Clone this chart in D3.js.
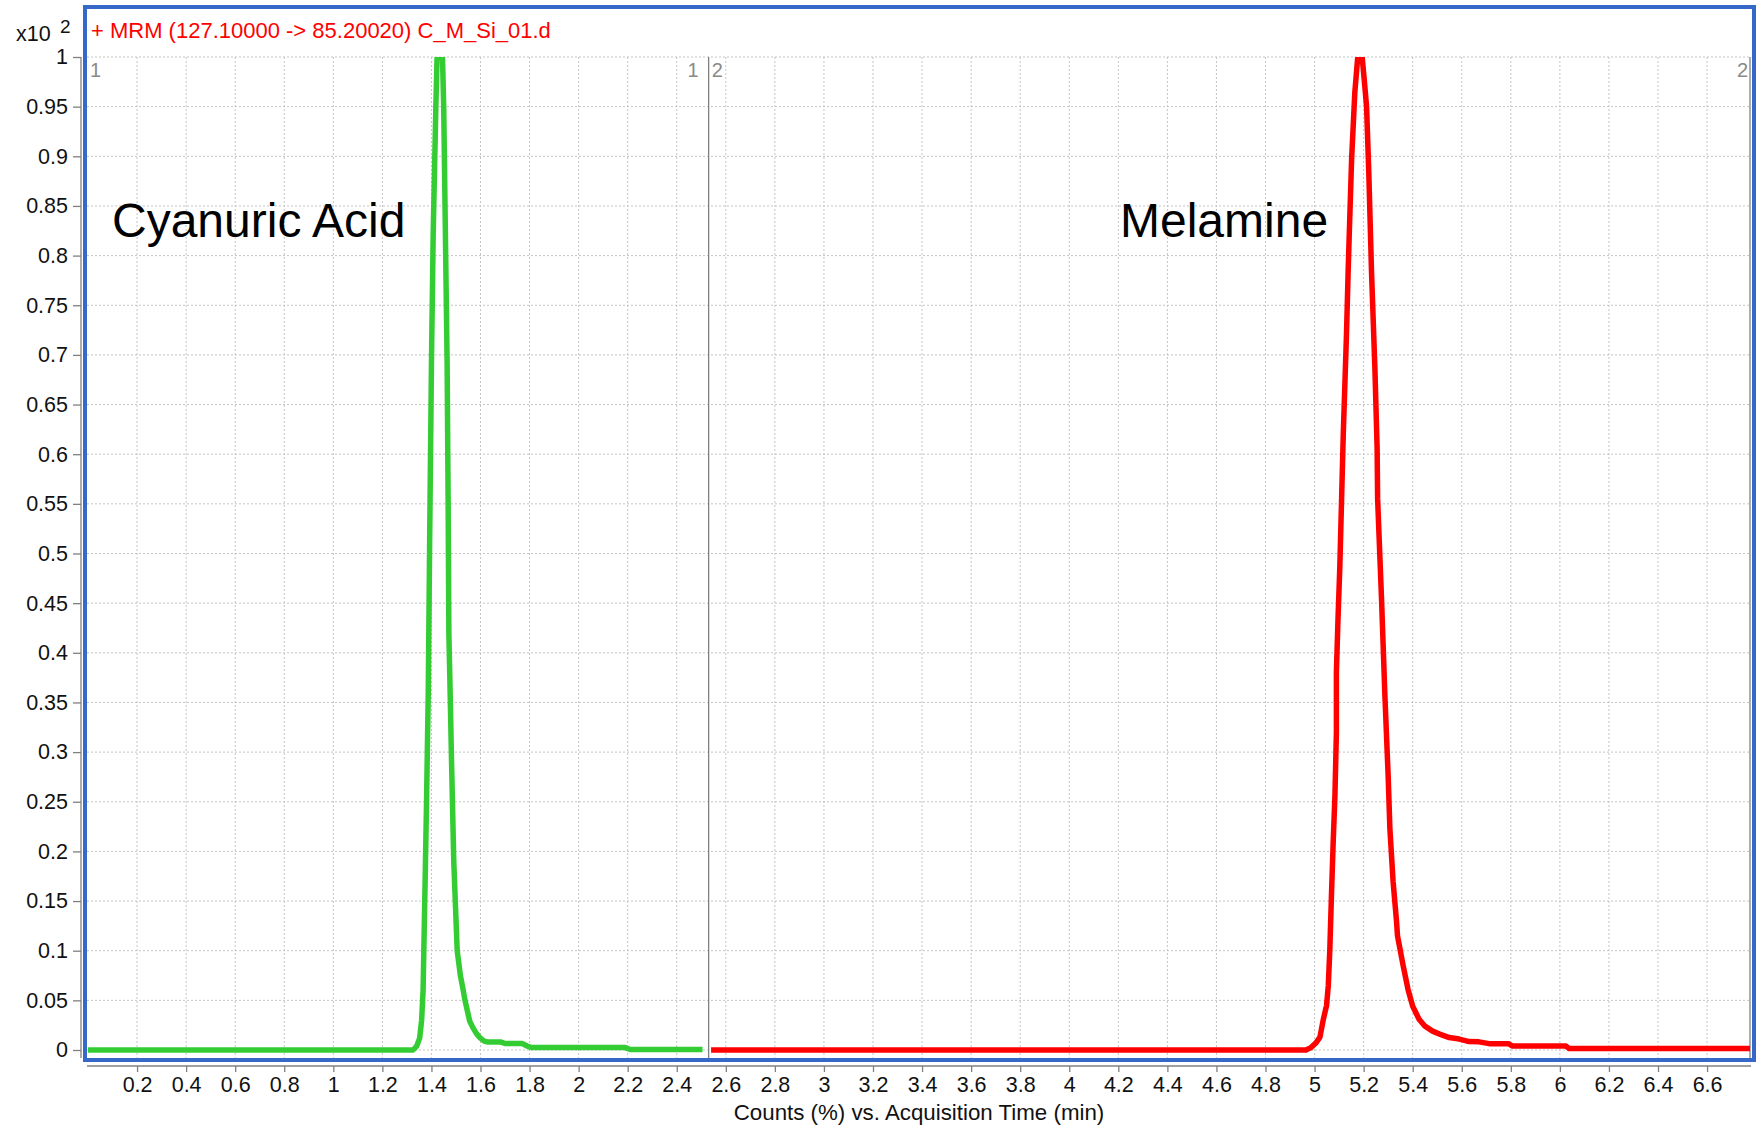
<!DOCTYPE html>
<html>
<head>
<meta charset="utf-8">
<script src="https://cdn.jsdelivr.net/npm/d3@7"></script>
<style>
  body { margin: 0; background: #fff; }
  svg { display: block; font-family: "Liberation Sans", Arial, sans-serif; }
</style>
</head>
<body>
<svg width="1756" height="1126"></svg>
<script>
// chromatogram data, counts in units of x10^2
const cyanuricTime = [0, 1.325, 1.340, 1.352, 1.360, 1.366, 1.369, 1.375, 1.380, 1.387, 1.393, 1.400, 1.407, 1.418, 1.423, 1.445, 1.450, 1.457, 1.464, 1.468, 1.471, 1.475, 1.482, 1.491, 1.505, 1.518, 1.529, 1.536, 1.546, 1.556, 1.570, 1.585, 1.597, 1.615, 1.631, 1.684, 1.700, 1.770, 1.790, 1.810, 2.190, 2.210, 2.505];
const cyanuricCounts = [0, 0, 0.004, 0.012, 0.03, 0.06, 0.1, 0.18, 0.25, 0.36, 0.52, 0.69, 0.82, 0.95, 1.0, 1.0, 0.95, 0.82, 0.69, 0.555, 0.42, 0.375, 0.29, 0.19, 0.1, 0.075, 0.061, 0.051, 0.04, 0.029, 0.022, 0.016, 0.0125, 0.009, 0.008, 0.008, 0.0065, 0.0065, 0.004, 0.0024, 0.0024, 0.0005, 0.0005];

const melamineTime = [2.54, 4.965, 4.985, 5.005, 5.022, 5.035, 5.049, 5.056, 5.062, 5.069, 5.076, 5.083, 5.089, 5.089, 5.095, 5.103, 5.117, 5.130, 5.137, 5.141, 5.151, 5.164, 5.176, 5.194, 5.205, 5.212, 5.221, 5.232, 5.246, 5.255, 5.257, 5.273, 5.287, 5.300, 5.307, 5.320, 5.334, 5.338, 5.361, 5.381, 5.400, 5.426, 5.450, 5.481, 5.510, 5.549, 5.590, 5.630, 5.670, 5.712, 5.790, 5.807, 6.025, 6.038, 6.775];
const melamineCounts = [0, 0, 0.0024, 0.007, 0.013, 0.03, 0.045, 0.065, 0.1, 0.157, 0.21, 0.256, 0.32, 0.38, 0.43, 0.487, 0.62, 0.72, 0.785, 0.818, 0.897, 0.964, 1.0, 1.0, 0.97, 0.95, 0.884, 0.785, 0.686, 0.606, 0.555, 0.454, 0.355, 0.276, 0.223, 0.17, 0.13, 0.115, 0.085, 0.061, 0.044, 0.031, 0.024, 0.019, 0.016, 0.0125, 0.011, 0.0085, 0.0082, 0.0064, 0.0064, 0.004, 0.004, 0.0014, 0.0014];

const xTicks = [0.2, 0.4, 0.6, 0.8, 1, 1.2, 1.4, 1.6, 1.8, 2, 2.2, 2.4, 2.6, 2.8, 3, 3.2, 3.4, 3.6, 3.8, 4, 4.2, 4.4, 4.6, 4.8, 5, 5.2, 5.4, 5.6, 5.8, 6, 6.2, 6.4, 6.6];
const yTicks = [0, 0.05, 0.1, 0.15, 0.2, 0.25, 0.3, 0.35, 0.4, 0.45, 0.5, 0.55, 0.6, 0.65, 0.7, 0.75, 0.8, 0.85, 0.9, 0.95, 1];

const segmentBreak = 2.53; // boundary between time segment 1 and 2
const xMax = 6.775;

const svg = d3.select('svg');

const xScale = d3.scaleLinear().domain([0, xMax]).range([88, 1750]);
const yScale = d3.scaleLinear().domain([0, 1]).range([1050, 57]);

const plotTop = 57;
const plotBottom = 1058;
const plotLeft = 87;
const plotRight = 1751;
const gridColor = '#c4c4c4';
const axisColor = '#808080';
const fmt = d => String(+d.toFixed(2));

// grid
svg.append('g').selectAll('line').data(xTicks)
  .enter().append('line')
    .attr('x1', d => xScale(d)).attr('x2', d => xScale(d))
    .attr('y1', plotTop).attr('y2', plotBottom)
    .attr('stroke', gridColor)
    .attr('stroke-dasharray', '2,2');

svg.append('g').selectAll('line').data(yTicks)
  .enter().append('line')
    .attr('x1', plotLeft).attr('x2', plotRight)
    .attr('y1', d => yScale(d)).attr('y2', d => yScale(d))
    .attr('stroke', gridColor)
    .attr('stroke-dasharray', '2,2');

// segment boundary + right border
[segmentBreak, xMax].forEach(v => {
  svg.append('line')
    .attr('x1', xScale(v)).attr('x2', xScale(v))
    .attr('y1', plotTop).attr('y2', plotBottom)
    .attr('stroke', axisColor).attr('stroke-width', 1.3);
});

// segment labels
const segLabels = [
  { x: plotLeft + 3, text: '1', anchor: 'start' },
  { x: xScale(segmentBreak) - 10, text: '1', anchor: 'end' },
  { x: xScale(segmentBreak) + 3, text: '2', anchor: 'start' },
  { x: plotRight - 3, text: '2', anchor: 'end' }
];
svg.append('g').selectAll('text').data(segLabels)
  .enter().append('text')
    .attr('x', d => d.x)
    .attr('y', 77)
    .attr('text-anchor', d => d.anchor)
    .attr('font-size', 20)
    .attr('fill', '#8a8a8a')
    .text(d => d.text);

// traces
svg.append('clipPath').attr('id', 'plot-clip')
  .append('rect')
    .attr('x', plotLeft).attr('y', plotTop)
    .attr('width', plotRight - plotLeft).attr('height', plotBottom - plotTop);

const line = d3.line()
  .x(d => xScale(d[0]))
  .y(d => yScale(d[1]));

const traces = [
  { t: cyanuricTime, c: cyanuricCounts, color: '#33cc33' },
  { t: melamineTime, c: melamineCounts, color: '#ff0000' }
];
traces.forEach(tr => {
  svg.append('path')
    .datum(tr.t.map((t, i) => [t, tr.c[i]]))
    .attr('clip-path', 'url(#plot-clip)')
    .attr('fill', 'none')
    .attr('stroke', tr.color)
    .attr('stroke-width', 5.5)
    .attr('stroke-linejoin', 'round')
    .attr('d', line);
});

// compound names
svg.append('text')
  .attr('x', 112).attr('y', 237)
  .attr('font-size', 48)
  .text('Cyanuric Acid');
svg.append('text')
  .attr('x', 1120).attr('y', 237)
  .attr('font-size', 48)
  .text('Melamine');

// blue frame
svg.append('rect')
  .attr('x', 85).attr('y', 7)
  .attr('width', 1669).attr('height', 1053)
  .attr('fill', 'none')
  .attr('stroke', '#3568c8')
  .attr('stroke-width', 4);

// title
svg.append('text')
  .attr('x', 91).attr('y', 38)
  .attr('font-size', 22)
  .attr('fill', '#ff0000')
  .text('+ MRM (127.10000 -> 85.20020) C_M_Si_01.d');

// y axis
const yAxisG = svg.append('g')
  .attr('transform', 'translate(81,0)')
  .call(d3.axisLeft(yScale).tickValues(yTicks).tickFormat(fmt).tickSize(8).tickPadding(5));
yAxisG.select('.domain').remove();
yAxisG.attr('font-size', 21.5).attr('font-family', null);
yAxisG.selectAll('.tick line').attr('stroke', axisColor).attr('stroke-width', 1.3);
yAxisG.selectAll('.tick text').attr('fill', '#111');
yAxisG.append('line')
  .attr('y1', plotTop).attr('y2', plotBottom)
  .attr('stroke', axisColor).attr('stroke-width', 1.3);

const unit = svg.append('text')
  .attr('x', 16).attr('y', 41)
  .attr('font-size', 21.5)
  .attr('fill', '#111')
  .text('x10');
unit.append('tspan')
  .attr('x', 60).attr('y', 33)
  .attr('font-size', 19)
  .text('2');

// x axis
const xAxisG = svg.append('g')
  .attr('transform', 'translate(0,1066)')
  .call(d3.axisBottom(xScale).tickValues(xTicks).tickFormat(fmt).tickSize(6).tickPadding(5));
xAxisG.select('.domain').remove();
xAxisG.attr('font-size', 21.5).attr('font-family', null);
xAxisG.selectAll('.tick line').attr('stroke', axisColor).attr('stroke-width', 1.3);
xAxisG.selectAll('.tick text').attr('fill', '#111');
xAxisG.append('line')
  .attr('x1', plotLeft).attr('x2', plotRight)
  .attr('stroke', axisColor).attr('stroke-width', 1.3);

xAxisG.append('text')
  .attr('x', (plotLeft + plotRight) / 2)
  .attr('y', 54)
  .attr('font-size', 22.3)
  .attr('fill', '#111')
  .attr('text-anchor', 'middle')
  .text('Counts (%) vs. Acquisition Time (min)');
</script>
</body>
</html>
